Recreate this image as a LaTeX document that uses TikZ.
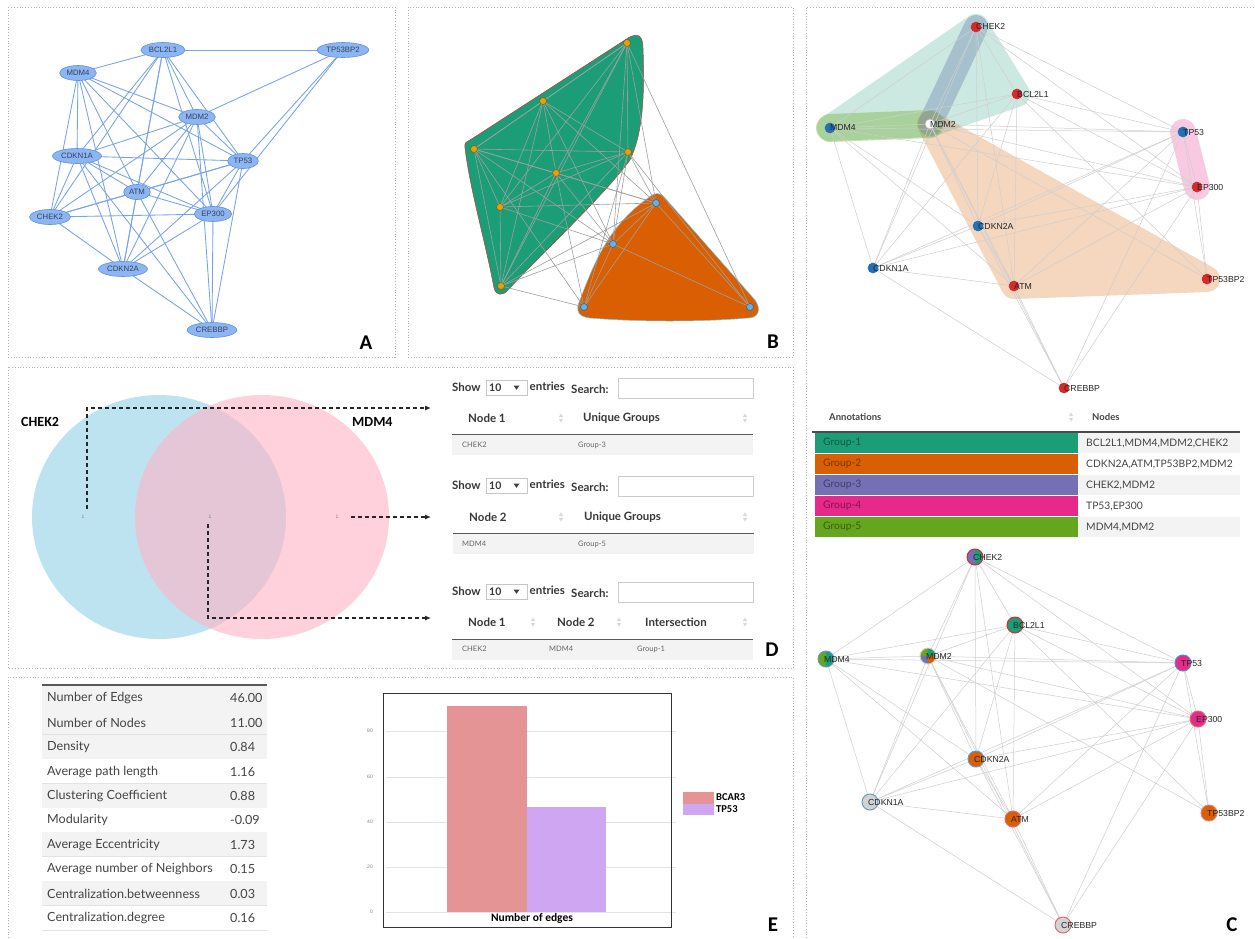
\documentclass[tikz,border=0pt]{standalone}
\usepackage{fontspec}
\setmainfont{Liberation Sans}
\newfontfamily\tabfont{Lato}
\newfontfamily\calfont{Carlito}
\usetikzlibrary{shapes.geometric,arrows.meta}

% ColorBrewer Dark2 group colours
\definecolor{dtwoA}{HTML}{1B9E77}
\definecolor{dtwoB}{HTML}{D95F02}
\definecolor{dtwoC}{HTML}{7570B3}
\definecolor{dtwoD}{HTML}{E7298A}
\definecolor{dtwoE}{HTML}{66A61E}
\definecolor{bandC}{HTML}{6F86B0}
% network A
\definecolor{afill}{HTML}{8DB5F2}
\definecolor{aborder}{HTML}{5E92E2}
\definecolor{aedgec}{HTML}{76A3EA}
\definecolor{atext}{HTML}{34425E}
% network B
\definecolor{bdotyc}{HTML}{E3A20A}
\definecolor{bdotyb}{HTML}{7A5A10}
\definecolor{bdotbc}{HTML}{5DB3EA}
\definecolor{bdotbb}{HTML}{2F5F8F}
% network C
\definecolor{cred}{HTML}{D42A2A}
\definecolor{cblue}{HTML}{2270B5}
\definecolor{cgray}{HTML}{D3D3D3}
% venn and tables
\definecolor{vennblue}{HTML}{BDE3F1}
\definecolor{vennpink}{HTML}{FFB3C6}
\definecolor{rowgray}{HTML}{F3F3F3}
\definecolor{tabtext}{HTML}{444444}
\definecolor{barred}{HTML}{E49494}
\definecolor{barlilac}{HTML}{CEA6F2}

\pgfdeclarelayer{paper}
\pgfdeclarelayer{hulls}
\pgfdeclarelayer{edges}
\pgfdeclarelayer{pies}
\pgfsetlayers{paper,hulls,edges,pies,main}

% the 46 interactions shared by all network views
\def\graphedges{bcl/tpb,bcl/md4,bcl/md2,bcl/c1a,bcl/tp,bcl/atm,bcl/chk,bcl/ep,bcl/c2a,%
tpb/md2,tpb/tp,tpb/ep,%
md4/md2,md4/c1a,md4/tp,md4/atm,md4/chk,md4/ep,md4/c2a,%
md2/c1a,md2/tp,md2/atm,md2/chk,md2/ep,md2/c2a,md2/crb,%
c1a/tp,c1a/atm,c1a/chk,c1a/ep,c1a/c2a,c1a/crb,%
tp/atm,tp/chk,tp/ep,tp/c2a,tp/crb,%
atm/chk,atm/ep,atm/c2a,atm/crb,%
chk/ep,chk/c2a,ep/c2a,ep/crb,c2a/crb}

% "Show 10 entries  Search: [....]" bar of a data table
\newcommand\showsearch[2]{%
  \begin{scope}[shift={(0,#1)}]
    \node[dtbold, anchor=west] (#2-show) at (452,387) {Show};
    \node[selbox] (#2-sel) at (506.5,387.5) {};
    \node[dtnum, anchor=west] (#2-ten) at (489,387.5) {10};
    \fill[black!75] (513.5,385.5) -- (519.5,385.5) -- (516.5,389.8) -- cycle;
    \node[dtbold, anchor=west] (#2-ent) at (529.5,386.5) {entries};
    \node[dtbold, anchor=west] (#2-sea) at (571,389) {Search:};
    \node[searchbox] (#2-box) at (685.5,388) {};
  \end{scope}}

\begin{document}
\begin{tikzpicture}[x=1pt,y=-1pt,
  panel/.style={draw=gray!60, dotted, line width=0.8pt},
  plabel/.style={font=\calfont\bfseries\fontsize{21}{21}\selectfont, inner sep=0pt},
  aell/.style={ellipse, draw=aborder, fill=afill, line width=0.6pt, inner xsep=1.5pt,
    inner ysep=0pt, minimum height=15pt, font=\fontsize{7.8}{8}\selectfont, text=atext},
  aedge/.style={draw=aedgec, line width=0.85pt},
  bdotY/.style={circle, fill=bdotyc, draw=bdotyb, line width=0.5pt, minimum size=7pt, inner sep=0pt},
  bdotB/.style={circle, fill=bdotbc, draw=bdotbb, line width=0.5pt, minimum size=7pt, inner sep=0pt},
  bedge/.style={draw=gray!75, line width=0.6pt},
  cedge/.style={draw=gray!38, line width=0.5pt},
  ctop/.style={circle, minimum size=10pt, inner sep=0pt, line width=0.6pt},
  cbot/.style={circle, minimum size=16pt, inner sep=0pt, line width=1pt},
  clab/.style={font=\fontsize{8.7}{9}\selectfont, text=black!85, inner sep=0pt},
  hull/.style={line width=#1, line join=round, line cap=round},
  ctabhead/.style={font=\tabfont\bfseries\fontsize{9.5}{10}\selectfont, text=tabtext, inner sep=0pt},
  ctabtxt/.style={font=\tabfont\fontsize{10.3}{11}\selectfont, text=tabtext, inner sep=0pt},
  grptxt/.style={font=\tabfont\fontsize{10.3}{11}\selectfont, text=black, text opacity=0.45, inner sep=0pt},
  dtbold/.style={font=\tabfont\bfseries\fontsize{11.5}{12}\selectfont, text=black!78, inner sep=0pt},
  dtnum/.style={font=\tabfont\bfseries\fontsize{10.5}{11}\selectfont, text=black!78, inner sep=0pt},
  dtrow/.style={font=\tabfont\fontsize{7.5}{8}\selectfont, text=black!60, inner sep=0pt},
  selbox/.style={draw=gray!45, minimum width=41pt, minimum height=15pt, inner sep=0pt},
  searchbox/.style={draw=gray!40, minimum width=135pt, minimum height=20pt, inner sep=0pt},
  sorticon/.pic={\fill[gray!30] (-2.2,-1) -- (2.2,-1) -- (0,-4.5) -- cycle;
                 \fill[gray!30] (-2.2,1) -- (2.2,1) -- (0,4.5) -- cycle;},
  vennlab/.style={font=\calfont\bfseries\fontsize{14}{14}\selectfont, inner sep=0pt},
  vennone/.style={font=\fontsize{5}{5}\selectfont, text=gray, inner sep=0pt},
  dasharrow/.style={draw=black!85, line width=1.1pt, dash pattern=on 4pt off 3pt,
    -{Latex[length=6pt,width=5pt]}},
  stattxt/.style={font=\tabfont\fontsize{12.6}{13}\selectfont, text=tabtext, inner sep=0pt},
  ticklab/.style={font=\fontsize{5}{5}\selectfont, text=gray, inner sep=0pt},
  legtxt/.style={font=\calfont\bfseries\fontsize{10.5}{11}\selectfont, inner sep=0pt}
]
\useasboundingbox (0,0) rectangle (1255,938);
\begin{pgfonlayer}{paper}
  \fill[white] (0,0) rectangle (1255,938);
\end{pgfonlayer}

% ---------------- panel frames ----------------
\draw[panel] (8,7) rectangle (395,357);
\draw[panel] (408,7) rectangle (793,357);
\draw[panel] (806,938) -- (806,7) -- (1255,7);
\draw[panel] (8,367) rectangle (793,668);
\draw[panel] (8,938) -- (8,677) -- (793,677) -- (793,938);

% ---------------- A: interaction network ----------------
\foreach \n/\lbl/\px/\py in {bcl/BCL2L1/163/50, tpb/TP53BP2/343/50, md4/MDM4/78/73,
  md2/MDM2/197/117, c1a/CDKN1A/77/156, tp/TP53/243/161, atm/ATM/137/192,
  chk/CHEK2/50/217, ep/EP300/213/214, c2a/CDKN2A/123/269, crb/CREBBP/212/330}
  \node[aell] (a-\n) at (\px,\py) {\lbl};
\begin{pgfonlayer}{edges}
  \foreach \u/\v in \graphedges \draw[aedge] (a-\u.center) -- (a-\v.center);
\end{pgfonlayer}
\node[plabel] (lab-a) at (366,343) {A};

% ---------------- B: clustered network ----------------
\foreach \n/\px/\py in {bcl/627/43, md4/543/101, c1a/474/149, md2/628/152,
  atm/556/173, chk/500/207, c2a/501/286}
  \node[bdotY] (b-\n) at (\px,\py) {};
\foreach \n/\px/\py in {tp/656/203, ep/613/244, crb/584/307, tpb/750/307}
  \node[bdotB] (b-\n) at (\px,\py) {};
\begin{pgfonlayer}{hulls}
  \filldraw[fill=dtwoA, draw=red!55!gray, line width=0.5pt]
    (465,148) .. controls (464,143) and (466,142) .. (470,140) -- (628,38)
    .. controls (638,32) and (643,36) .. (643,48)
    .. controls (645,100) and (642,135) .. (630,160)
    .. controls (600,200) and (545,250) .. (508,290)
    .. controls (503,296) and (496,296) .. (494,288)
    .. controls (485,240) and (470,190) .. (465,148) -- cycle;
  \filldraw[fill=dtwoB, draw=cyan!60!white, line width=0.5pt]
    (648,198) .. controls (655,192) and (660,192) .. (665,198) -- (755,300)
    .. controls (762,310) and (758,318) .. (748,318)
    .. controls (700,322) and (640,322) .. (590,318)
    .. controls (578,317) and (575,310) .. (580,300)
    .. controls (595,260) and (610,225) .. (648,198) -- cycle;
\end{pgfonlayer}
\begin{pgfonlayer}{edges}
  \foreach \u/\v in \graphedges \draw[bedge] (b-\u.center) -- (b-\v.center);
\end{pgfonlayer}
\node[plabel] (lab-b) at (773,342) {B};

% ---------------- C (top): group hulls ----------------
\foreach \n/\lbl/\px/\py/\fc/\dc in {chk/CHEK2/976/27/cred/cred, bcl/BCL2L1/1017/94/cred/cred,
  md4/MDM4/830/128/cblue/cblue, md2/MDM2/930/124/white/gray!60, tp/TP53/1183/132/cblue/cblue,
  ep/EP300/1197/187/cred/cred, c2a/CDKN2A/978/226/cblue/cblue, c1a/CDKN1A/873/268/cblue/cblue,
  atm/ATM/1014/286/cred/cred, tpb/TP53BP2/1207/279/cred/cred, crb/CREBBP/1064/388/cred/cred}
{
  \node[ctop, fill=\fc, draw=\dc] (c-\n) at (\px,\py) {};
  \node[clab, anchor=west] (c-\n-t) at (c-\n.center) {\lbl};
}
\begin{pgfonlayer}{hulls}
  \begin{scope}[transparency group, opacity=0.22]
    \filldraw[dtwoA, hull=26pt] (c-md4.center) -- (c-chk.center) -- (c-bcl.center) -- (c-md2.center) -- cycle;
  \end{scope}
  \begin{scope}[transparency group, opacity=0.25]
    \filldraw[dtwoB, hull=26pt] (c-md2.center) -- (c-atm.center) -- (c-tpb.center) -- cycle;
  \end{scope}
  \begin{scope}[transparency group, opacity=0.35]
    \draw[dtwoE, hull=28pt] (c-md4.center) -- (c-md2.center);
  \end{scope}
  \begin{scope}[transparency group, opacity=0.4]
    \draw[bandC, hull=24pt] (c-chk.center) -- (c-md2.center);
  \end{scope}
  \begin{scope}[transparency group, opacity=0.25]
    \draw[dtwoD, hull=26pt] (c-tp.center) -- (c-ep.center);
  \end{scope}
\end{pgfonlayer}
\begin{pgfonlayer}{edges}
  \foreach \u/\v in \graphedges \draw[cedge] (c-\u.center) -- (c-\v.center);
\end{pgfonlayer}

% ---------------- C: annotation table ----------------
\node[ctabhead, anchor=west] (t-ann) at (829,417) {Annotations};
\pic at (1071,417) {sorticon};
\node[ctabhead, anchor=west] (t-nod) at (1092,417) {Nodes};
\foreach \i/\gc/\g/\members in {1/dtwoA/Group-1/{BCL2L1,MDM4,MDM2,CHEK2},
  2/dtwoB/Group-2/{CDKN2A,ATM,TP53BP2,MDM2}, 3/dtwoC/Group-3/{CHEK2,MDM2},
  4/dtwoD/Group-4/{TP53,EP300}, 5/dtwoE/Group-5/{MDM4,MDM2}}
{
  \pgfmathsetmacro\ytop{433+21*(\i-1)}
  \pgfmathtruncatemacro\odd{mod(\i,2)}
  \ifnum\odd=1 \fill[rowgray] (1078,\ytop) rectangle (1240,\ytop+20); \fi
  \fill[\gc] (815,\ytop) rectangle (1078,\ytop+20);
  \node[grptxt, anchor=west] (t-g\i) at (823,\ytop+10) {\g};
  \node[ctabtxt, anchor=west] (t-m\i) at (1086,\ytop+10) {\members};
}
\draw[black!70, line width=1.3pt] (812,432) -- (1240,432);

% ---------------- C (bottom): pie-chart nodes ----------------
\foreach \n/\lbl/\px/\py/\fc/\dc in {chk/CHEK2/975/557/none/cred, bcl/BCL2L1/1015/625/dtwoA/cred,
  md4/MDM4/826/659/none/cblue!70, md2/MDM2/928/656/none/gray!40, tp/TP53/1183/663/dtwoD/cblue!80,
  ep/EP300/1198/719/dtwoD/cred!70, c2a/CDKN2A/976/759/dtwoB/cblue!70, c1a/CDKN1A/870/802/cgray/cblue!70,
  atm/ATM/1013/819/dtwoB/cred!70, tpb/TP53BP2/1209/813/dtwoB/cred!60, crb/CREBBP/1063/925/cgray/cred!70}
{
  \node[cbot, fill=\fc, draw=\dc] (d-\n) at (\px,\py) {};
  \node[clab, anchor=west] (d-\n-t) at ([xshift=-2pt]d-\n.center) {\lbl};
}
\begin{pgfonlayer}{pies}
  \begin{scope}[shift={(d-chk.center)}, x=1pt, y=1pt]
    \fill[dtwoA] (0,0) -- (0,8) arc[start angle=90, end angle=-90, radius=8] -- cycle;
    \fill[dtwoC] (0,0) -- (0,8) arc[start angle=90, end angle=270, radius=8] -- cycle;
  \end{scope}
  \begin{scope}[shift={(d-md4.center)}, x=1pt, y=1pt]
    \fill[dtwoA] (0,0) -- (0,8) arc[start angle=90, end angle=-90, radius=8] -- cycle;
    \fill[dtwoE] (0,0) -- (0,8) arc[start angle=90, end angle=270, radius=8] -- cycle;
  \end{scope}
  \begin{scope}[shift={(d-md2.center)}, x=1pt, y=1pt]
    \fill[dtwoA] (0,0) -- (8,0) arc[start angle=0, end angle=90, radius=8] -- cycle;
    \fill[dtwoE] (0,0) -- (0,8) arc[start angle=90, end angle=180, radius=8] -- cycle;
    \fill[dtwoC] (0,0) -- (-8,0) arc[start angle=180, end angle=270, radius=8] -- cycle;
    \fill[dtwoB] (0,0) -- (0,-8) arc[start angle=270, end angle=360, radius=8] -- cycle;
  \end{scope}
\end{pgfonlayer}
\begin{pgfonlayer}{edges}
  \foreach \u/\v in \graphedges \draw[cedge] (d-\u.center) -- (d-\v.center);
\end{pgfonlayer}
\node[plabel] (lab-c) at (1232,925) {C};

% ---------------- D: Venn diagram ----------------
\fill[vennblue] (159,517) ellipse[x radius=127, y radius=122];
\fill[vennpink, fill opacity=0.6] (262,517) ellipse[x radius=127, y radius=122];
\node[vennlab, anchor=west] (v-chek2) at (21,422) {CHEK2};
\node[vennlab, anchor=west] (v-mdm4) at (352,422) {MDM4};
\node[vennone] (v-left) at (83,517) {1};
\node[vennone] (v-mid) at (210,517) {1};
\node[vennone] (v-right) at (337,517) {1};
\coordinate (v-from1) at (87,509);
\coordinate (v-to1) at (431,408);
\coordinate (v-from2) at (351,517);
\coordinate (v-to2) at (431,517);
\coordinate (v-from3) at (208,524);
\coordinate (v-to3) at (431,618);
\draw[dasharrow] (v-from1) |- (v-to1);
\draw[dasharrow] (v-from2) -- (v-to2);
\draw[dasharrow] (v-from3) |- (v-to3);

% ---------------- D: result tables ----------------
\showsearch{0}{ta}
\node[dtbold, anchor=west] (ta-h1) at (468,418) {Node 1};
\pic at (561,418) {sorticon};
\node[dtbold, anchor=west] (ta-h2) at (583,418) {Unique Groups};
\pic at (745,418) {sorticon};
\fill[rowgray] (452,434) rectangle (753,455);
\draw[black!65, line width=1pt] (452,434) -- (753,434);
\node[dtrow, anchor=west] (ta-r1) at (462,445) {CHEK2};
\node[dtrow, anchor=west] (ta-r2) at (578,445) {Group-3};

\showsearch{98}{tb}
\node[dtbold, anchor=west] (tb-h1) at (469,517) {Node 2};
\pic at (561,517) {sorticon};
\node[dtbold, anchor=west] (tb-h2) at (584,517) {Unique Groups};
\pic at (745,517) {sorticon};
\fill[rowgray] (453,533) rectangle (754,554);
\draw[black!65, line width=1pt] (453,533) -- (754,533);
\node[dtrow, anchor=west] (tb-r1) at (462,544) {MDM4};
\node[dtrow, anchor=west] (tb-r2) at (578,544) {Group-5};

\showsearch{204}{tc}
\node[dtbold, anchor=west] (tc-h1) at (468,622) {Node 1};
\pic at (533,622) {sorticon};
\node[dtbold, anchor=west] (tc-h2) at (557,622) {Node 2};
\pic at (619,622) {sorticon};
\node[dtbold, anchor=west] (tc-h3) at (645,622) {Intersection};
\pic at (745,622) {sorticon};
\fill[rowgray] (452,639) rectangle (753,660);
\draw[black!65, line width=1pt] (452,639) -- (753,639);
\node[dtrow, anchor=west] (tc-r1) at (462,649) {CHEK2};
\node[dtrow, anchor=west] (tc-r2) at (549,649) {MDM4};
\node[dtrow, anchor=west] (tc-r3) at (637,649) {Group-1};
\node[plabel] (lab-d) at (772,650) {D};

% ---------------- E: network statistics ----------------
\foreach \i/\k/\v/\bg in {1/Number of Edges/46.00/rowgray, 2/Number of Nodes/11.00/rowgray,
  3/Density/0.84/rowgray, 4/Average path length/1.16/white, 5/Clustering Coefficient/0.88/rowgray,
  6/Modularity/-0.09/white, 7/Average Eccentricity/1.73/rowgray,
  8/Average number of Neighbors/0.15/white, 9/Centralization.betweenness/0.03/rowgray,
  10/Centralization.degree/0.16/white}
{
  \pgfmathsetmacro\ytop{686+24.4*(\i-1)}
  \fill[\bg] (42,\ytop) rectangle (267,\ytop+24.4);
  \draw[gray!22, line width=0.8pt] (42,\ytop+24.4) -- (267,\ytop+24.4);
  \node[stattxt, anchor=west] (st-k\i) at (47,\ytop+12.4) {\k};
  \node[stattxt, anchor=west] (st-v\i) at (230,\ytop+12.4) {\v};
}
\draw[black!65, line width=1.2pt] (42,685) -- (267,685);

% ---------------- E: bar chart ----------------
\foreach \val/\yy in {0/912, 20/867, 40/822, 60/777, 80/731}
{
  \draw[gray!22, line width=0.9pt] (386,\yy) -- (676,\yy);
  \node[ticklab, anchor=east] (tick\val) at (373,\yy) {\val};
}
\fill[barred] (447,706) rectangle (527,912);
\fill[barlilac] (527,807) rectangle (606,912);
\draw[black!80, line width=0.7pt] (383,693) rectangle (671,927);
\node[legtxt, font=\calfont\bfseries\fontsize{11.5}{12}\selectfont] (e-xlab) at (532,918.5) {Number of edges};
\fill[barred] (683,792) rectangle (714,803.5);
\fill[barlilac] (683,803.5) rectangle (714,815);
\node[legtxt, anchor=west] (e-l1) at (716,797) {BCAR3};
\node[legtxt, anchor=west] (e-l2) at (716,809) {TP53};
\node[plabel] (lab-e) at (773,925) {E};

\end{tikzpicture}
\end{document}
